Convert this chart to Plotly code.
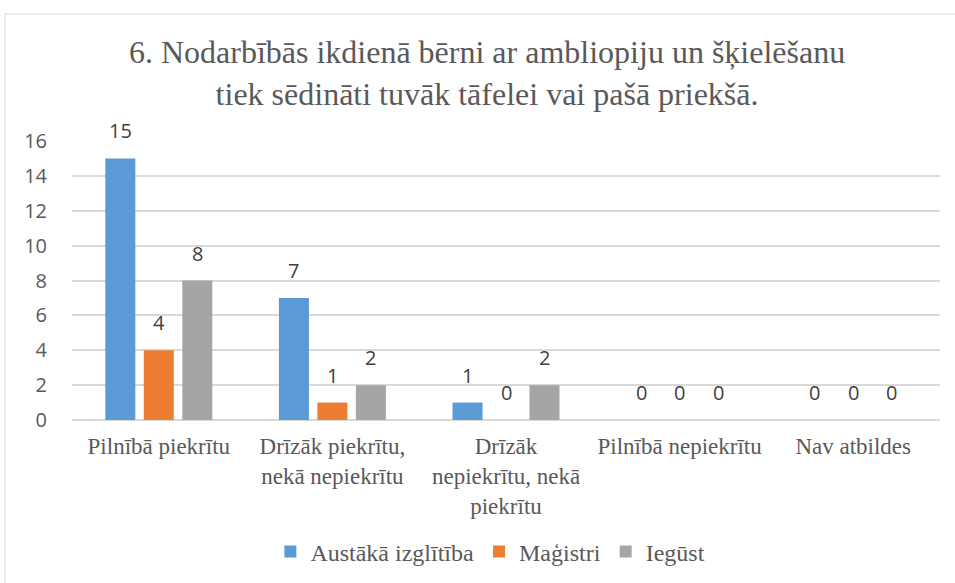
import plotly.graph_objects as go

categories = ["Pilnībā piekrītu", "Drīzāk piekrītu,<br>nekā nepiekrītu",
              "Drīzāk<br>nepiekrītu, nekā<br>piekrītu", "Pilnībā nepiekrītu", "Nav atbildes"]
series_names = ["Austākā izglītība", "Maģistri", "Iegūst"]
augstaka = [15, 7, 1, 0, 0]
magistri = [4, 1, 0, 0, 0]
iegust = [8, 2, 2, 0, 0]
colors = ["#5B9BD5", "#ED7D31", "#A5A5A5"]
title_text = "6. Nodarbībās ikdienā bērni ar ambliopiju un šķielēšanu<br>tiek sēdināti tuvāk tāfelei vai pašā priekšā."

values = [augstaka, magistri, iegust]
BARGAP = 0.335
GROUPGAP = 0.22
SANS = "'Open Sans', sans-serif"
SERIF = "'Liberation Serif', serif"

fig = go.Figure()
for name, vals, col in zip(series_names, values, colors):
    fig.add_trace(go.Bar(x=list(range(len(categories))), y=vals, name=name,
                         marker=dict(color=col, line=dict(width=0))))

annotations = []
slot = (1 - BARGAP) / 3
for i, vals in enumerate(values):
    for j, v in enumerate(vals):
        annotations.append(dict(x=j + (i - 1) * slot, y=v, xref="x", yref="y",
                                text=str(v), showarrow=False, yanchor="bottom",
                                yshift=12, font=dict(family=SANS, size=20, color="#404040")))

fig.update_layout(
    width=955, height=583,
    paper_bgcolor="white", plot_bgcolor="white",
    barmode="group", bargap=BARGAP, bargroupgap=GROUPGAP,
    margin=dict(l=72, r=15, t=141, b=163, autoexpand=False),
    title=dict(text=title_text, x=0.51, xanchor="center", y=1 - 63 / 583, yanchor="top",
               yref="container",
               font=dict(family=SERIF, size=32, color="#595959")),
    xaxis=dict(tickmode="array", tickvals=list(range(len(categories))), ticktext=categories,
               range=[-0.5, len(categories) - 0.5], showgrid=False, zeroline=False,
               showline=False, ticks="", ticklabelstandoff=10, automargin=False,
               tickfont=dict(family=SERIF, size=23, color="#595959")),
    yaxis=dict(range=[0, 16], dtick=2, showgrid=True, gridcolor="#D9D9D9", gridwidth=1.5,
               zeroline=True, zerolinecolor="#D9D9D9", zerolinewidth=1.5,
               ticks="", ticklabelstandoff=24, automargin=False,
               tickfont=dict(family=SANS, size=20, color="#595959")),
    legend=dict(orientation="h", x=0.482, xanchor="center", y=31 / 583, yanchor="middle",
                yref="container", font=dict(family=SERIF, size=24, color="#595959"),
                itemwidth=30, traceorder="normal"),
    annotations=annotations,
    shapes=[dict(type="rect", xref="paper", yref="paper",
                 x0=(5 - 72) / 868, x1=1.2, y0=-1.0, y1=(420 - 14) / 279,
                 line=dict(color="#D9D9D9", width=1), fillcolor="rgba(0,0,0,0)", layer="below")],
)

fig.write_html("out.html", config={"displayModeBar": False},
               post_script="document.body.style.margin='0';")
